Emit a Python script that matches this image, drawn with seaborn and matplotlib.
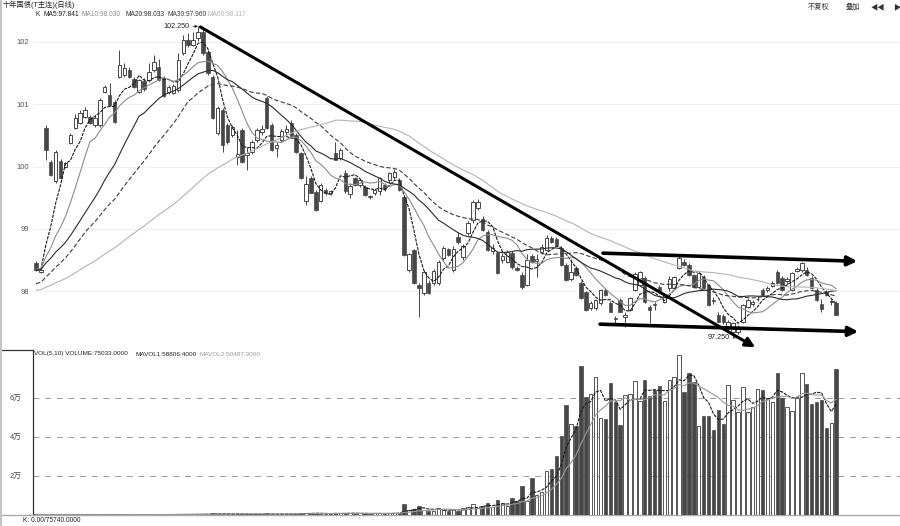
import numpy as np
import pandas as pd
import matplotlib
matplotlib.use("Agg")
import matplotlib.pyplot as plt
import seaborn as sns

sns.set_theme(style="white")
plt.rcParams["font.family"] = ["Liberation Sans", "Noto Sans CJK SC", "DejaVu Sans"]

# ---- data (daily candles, oldest first) ----
open_ = [
    98.45, 98.31, 100.62, 100.07, 99.76, 100.09, 100.00, 100.38, 100.62, 100.70,
    100.80, 100.80, 100.67, 100.67, 101.20, 101.15, 101.04, 101.44, 101.47, 101.55,
    101.41, 101.20, 101.37, 101.39, 101.55, 101.60, 101.42, 101.20, 101.18, 101.23,
    101.82, 102.03, 101.95, 102.06, 102.16, 101.84, 101.44, 100.54, 100.91, 100.67,
    100.51, 100.15, 100.59, 100.18, 100.23, 100.43, 100.55, 101.10, 100.67, 100.30,
    100.43, 100.56, 100.70, 100.51, 100.22, 99.45, 99.82, 99.59, 99.45, 99.62,
    99.58, 100.22, 100.14, 99.90, 99.56, 99.82, 99.70, 99.67, 99.52, 99.58,
    99.60, 99.70, 99.78, 99.84, 99.78, 99.51, 98.34, 98.66, 98.10, 97.97,
    98.13, 98.13, 98.13, 98.53, 98.67, 98.34, 98.87, 98.55, 98.93, 99.14,
    99.34, 99.16, 98.95, 98.65, 98.61, 98.50, 98.47, 98.61, 98.37, 98.26,
    98.10, 98.56, 98.48, 98.63, 98.66, 98.85, 98.84, 98.69, 98.42, 98.20,
    98.37, 98.13, 97.99, 97.73, 97.73, 97.81, 98.02, 97.81, 97.57, 97.86,
    97.58, 97.70, 98.02, 98.10, 98.21, 97.75, 97.80, 98.07, 97.83, 98.05,
    98.05, 98.37, 98.47, 98.42, 98.26, 98.07, 98.23, 98.10, 97.86, 97.62,
    97.60, 97.41, 97.35, 97.34, 97.51, 97.75, 97.80, 97.87, 98.02, 98.02,
    98.08, 98.31, 98.21, 98.16, 98.02, 98.32, 98.34, 98.34, 98.21, 98.02,
    97.80, 97.99, 97.82, 97.81]
high = [
    98.48, 98.36, 100.66, 100.11, 100.26, 100.12, 100.08, 100.54, 100.84, 100.90,
    100.96, 100.82, 100.83, 101.10, 101.31, 101.34, 101.07, 101.87, 101.66, 101.60,
    101.44, 101.41, 101.42, 101.66, 101.79, 101.72, 101.45, 101.31, 101.32, 101.82,
    102.11, 102.14, 102.16, 102.25, 102.20, 101.87, 101.47, 100.97, 100.94, 100.70,
    100.66, 100.59, 100.62, 100.31, 100.42, 100.62, 100.66, 101.13, 100.70, 100.39,
    100.60, 100.66, 100.75, 100.54, 100.24, 99.85, 99.85, 99.62, 99.74, 99.65,
    99.63, 100.39, 100.30, 99.95, 99.74, 99.84, 99.80, 99.70, 99.55, 99.64,
    99.84, 99.74, 99.92, 99.96, 99.82, 99.54, 98.62, 98.68, 98.13, 98.34,
    98.18, 98.36, 98.50, 98.72, 98.70, 98.72, 98.95, 98.76, 99.12, 99.46,
    99.48, 99.20, 98.98, 98.76, 98.64, 98.62, 98.66, 98.65, 98.40, 98.30,
    98.60, 98.60, 98.60, 98.75, 98.90, 98.88, 98.87, 98.72, 98.45, 98.52,
    98.40, 98.16, 98.00, 97.84, 97.88, 98.04, 98.05, 97.84, 97.60, 97.89,
    97.67, 97.90, 98.31, 98.32, 98.24, 97.78, 97.82, 98.10, 97.96, 98.25,
    98.24, 98.58, 98.52, 98.45, 98.28, 98.31, 98.26, 98.12, 97.90, 97.66,
    97.63, 97.53, 97.50, 97.45, 97.80, 97.89, 97.86, 97.92, 98.05, 98.08,
    98.16, 98.34, 98.24, 98.22, 98.30, 98.38, 98.47, 98.38, 98.24, 98.05,
    97.88, 98.02, 97.88, 97.84]
low = [
    98.32, 98.29, 100.11, 99.85, 99.74, 99.80, 99.98, 100.36, 100.60, 100.68,
    100.78, 100.68, 100.64, 100.64, 101.18, 100.97, 100.70, 101.42, 101.44, 101.42,
    101.26, 101.18, 101.22, 101.36, 101.52, 101.37, 101.12, 101.17, 101.16, 101.20,
    101.79, 101.92, 101.93, 102.02, 101.79, 101.47, 100.76, 100.51, 100.23, 100.36,
    100.48, 100.03, 100.05, 99.95, 100.20, 100.40, 100.50, 100.60, 100.25, 100.15,
    100.40, 100.50, 100.48, 100.22, 99.80, 99.38, 99.57, 99.28, 99.43, 99.55,
    99.55, 100.10, 100.10, 99.58, 99.50, 99.68, 99.67, 99.52, 99.48, 99.55,
    99.55, 99.60, 99.74, 99.80, 99.60, 98.56, 98.30, 98.12, 97.59, 97.94,
    97.95, 98.10, 98.10, 98.50, 98.56, 98.30, 98.76, 98.50, 98.90, 99.10,
    99.30, 98.96, 98.64, 98.60, 98.27, 98.45, 98.45, 98.36, 98.32, 98.04,
    98.08, 98.46, 98.22, 98.60, 98.64, 98.78, 98.72, 98.40, 98.17, 98.17,
    98.25, 97.87, 97.68, 97.70, 97.70, 97.78, 97.93, 97.66, 97.47, 97.66,
    97.43, 97.68, 98.00, 98.08, 97.81, 97.49, 97.70, 97.97, 97.81, 98.00,
    98.03, 98.35, 98.40, 98.24, 98.05, 98.05, 98.03, 97.76, 97.80, 97.50,
    97.48, 97.38, 97.25, 97.31, 97.49, 97.73, 97.76, 97.84, 97.93, 97.99,
    98.06, 98.12, 98.00, 98.12, 98.00, 98.30, 98.31, 98.24, 98.04, 97.84,
    97.66, 97.93, 97.78, 97.61]
close = [
    98.34, 98.34, 100.27, 99.87, 100.23, 99.82, 100.05, 100.51, 100.78, 100.86,
    100.91, 100.70, 100.78, 101.07, 101.28, 100.99, 100.72, 101.63, 101.58, 101.44,
    101.28, 101.39, 101.25, 101.52, 101.68, 101.39, 101.13, 101.28, 101.30, 101.71,
    102.03, 101.95, 102.03, 102.16, 101.82, 101.50, 100.78, 100.94, 100.35, 100.39,
    100.64, 100.20, 100.07, 100.22, 100.39, 100.59, 100.60, 100.62, 100.27, 100.34,
    100.57, 100.61, 100.49, 100.23, 99.82, 99.72, 99.58, 99.30, 99.70, 99.57,
    99.61, 100.11, 100.26, 99.60, 99.68, 99.70, 99.78, 99.54, 99.51, 99.62,
    99.82, 99.64, 99.90, 99.92, 99.62, 98.58, 98.60, 98.13, 98.05, 98.31,
    97.97, 98.32, 98.47, 98.69, 98.58, 98.68, 98.79, 98.72, 99.09, 99.43,
    99.43, 98.98, 98.66, 98.70, 98.29, 98.56, 98.63, 98.39, 98.34, 98.07,
    98.50, 98.47, 98.52, 98.71, 98.85, 98.79, 98.74, 98.42, 98.18, 98.30,
    98.26, 97.89, 97.70, 97.81, 97.86, 98.02, 97.94, 97.67, 97.55, 97.67,
    97.62, 97.89, 98.27, 98.30, 97.83, 97.70, 97.78, 97.99, 97.94, 98.20,
    98.23, 98.53, 98.42, 98.26, 98.07, 98.29, 98.05, 97.78, 97.84, 97.51,
    97.50, 97.51, 97.49, 97.41, 97.78, 97.86, 97.82, 97.88, 97.94, 98.05,
    98.13, 98.13, 98.02, 98.19, 98.29, 98.35, 98.45, 98.26, 98.05, 97.86,
    97.72, 97.94, 97.85, 97.62]
volume = [
    300, 100, 200, 100, 200, 100, 100, 200, 100, 200,
    100, 100, 300, 200, 100, 200, 300, 200, 100, 200,
    100, 200, 200, 300, 200, 300, 200, 100, 400, 300,
    400, 300, 200, 500, 600, 400, 900, 600, 700, 500,
    400, 500, 600, 400, 300, 400, 300, 800, 700, 400,
    500, 400, 600, 700, 1000, 900, 800, 1100, 700, 500,
    600, 1200, 800, 1000, 900, 700, 900, 800, 600, 900,
    800, 700, 900, 1000, 1200, 5500, 2400, 3100, 4600, 2800,
    2200, 2000, 3500, 2600, 1800, 2900, 2300, 3400, 4200, 5800,
    3600, 4800, 5900, 4100,
    7700, 6000, 4500, 8900, 7400, 14900, 7400, 18800, 10500, 12000,
    22600, 23600, 30300, 40700, 56400, 46500, 45700, 76400, 60400, 62000,
    70600, 49900, 49200, 67500, 58000, 46200, 61600, 62000, 68700, 58500,
    69300, 61000, 64000, 66200, 58500, 69300, 70800, 82000, 63300, 73000,
    68400, 45700, 50800, 50800, 43600, 53900, 46700, 66700, 59000, 53000,
    65800, 53000, 55200, 64600, 64300, 60000, 58000, 73000, 60200, 55600,
    53400, 59900, 72700, 67200, 57000, 57800, 59000, 44800, 47000, 75033]

# closes before the visible window, only used to warm up the moving averages
prior_close = [
    97.95, 97.88, 97.92, 97.85, 97.90, 97.96, 97.93, 97.87, 97.84, 97.90,
    97.94, 97.98, 97.92, 97.86, 97.89, 97.93, 97.95, 97.91, 97.88, 97.86,
    97.90, 97.94, 97.92, 97.89, 97.93, 97.96, 97.90, 97.87, 97.91, 97.94,
    97.80, 97.72, 97.66, 97.70, 97.64, 97.68, 97.73, 97.69, 97.65, 97.71,
    98.10, 98.22, 98.30, 98.28, 98.35, 98.40, 98.33, 98.37, 98.42, 98.38,
    98.31, 98.36, 98.40, 98.34, 98.39, 98.35, 98.33, 98.38, 98.36]

price_ticks = [98, 99, 100, 101, 102]
price_labels = ["98", "99", "100", "101", "102"]
vol_ticks = [20000, 40000, 60000]
vol_labels = ["2万", "4万", "6万"]

ma_periods = [5, 10, 20, 30, 60]
ma_names = ["MA5:97.841", "MA10:98.030", "MA20:98.033", "MA30:97.960", "MA60:98.117"]

# hand drawn trend lines (candle index, price)
trend_down = [(33.5, 102.24), (146.5, 97.10)]
channel_top = [(115.5, 98.61), (167.3, 98.48)]
channel_bottom = [(114.9, 97.47), (167.5, 97.35)]

# ---- layout helpers (pixel positions in the 900x526 picture) ----
W, H = 900, 526


def fx(x):
    return x / W


def fy(y):
    return 1 - y / H


DARK = "#474747"
ma_colors = ["#1a1a1a", "#8c8c8c", "#2b2b2b", "#3c3c3c", "#b4b4b4"]
ma_styles = [(0, (3, 1)), "-", "-", (0, (4, 2)), "-"]

fig = plt.figure(figsize=(9, 5.26), dpi=100)
fig.patch.set_facecolor("white")
ax = fig.add_axes([fx(33), fy(347), 1 - fx(33), fy(12) - fy(347)])
axv = fig.add_axes([fx(33), fy(515), 1 - fx(33), fy(350) - fy(515)])

n = len(close)
idx = np.arange(n)
o = np.array(open_)
c = np.array(close)
up = c >= o

# ---- candles ----
ax.vlines(idx, low, high, color=DARK, lw=0.7, zorder=2)
body_bottom = np.minimum(o, c)
body_height = np.maximum(np.abs(c - o), 0.008)
ax.bar(idx[~up], body_height[~up], bottom=body_bottom[~up], width=0.7,
       color=DARK, edgecolor=DARK, lw=0.5, zorder=3)
ax.bar(idx[up], body_height[up], bottom=body_bottom[up], width=0.7,
       color="white", edgecolor=DARK, lw=0.7, zorder=3)

# ---- moving averages ----
all_close = pd.Series(prior_close + close)
for p, col, ls in zip(ma_periods, ma_colors, ma_styles):
    ma = all_close.rolling(p, min_periods=1).mean().iloc[len(prior_close):].to_numpy()
    sns.lineplot(x=idx, y=ma, ax=ax, color=col, lw=0.8, linestyle=ls,
                 legend=False, zorder=4)

# ---- trend lines ----
for (x0, y0), (x1, y1), lw in [(trend_down[0], trend_down[1], 2.2),
                               (channel_top[0], channel_top[1], 2.6),
                               (channel_bottom[0], channel_bottom[1], 2.6)]:
    ax.annotate("", xy=(x1, y1), xytext=(x0, y0), annotation_clip=False,
                arrowprops=dict(arrowstyle="-|>", lw=lw, color="black",
                                mutation_scale=14, shrinkA=0, shrinkB=0),
                zorder=6)

hi_i = int(np.argmax(high))
lo_i = int(np.argmin(low))
ax.annotate(f"{high[hi_i]:.3f}", xy=(hi_i, high[hi_i]), xytext=(-6, 0),
            textcoords="offset points", ha="right", va="center", fontsize=5.2,
            color="#222",
            arrowprops=dict(arrowstyle="-|>", lw=0.5, color="#222",
                            mutation_scale=4, shrinkA=0, shrinkB=0))
ax.annotate(f"{low[lo_i]:.3f}", xy=(lo_i + 1, low[lo_i]), xytext=(-6, 0),
            textcoords="offset points", ha="right", va="center", fontsize=5.2,
            color="#222",
            arrowprops=dict(arrowstyle="-", lw=0.5, color="#222",
                            shrinkA=0, shrinkB=0))

ax.set_xlim(-0.61, 176.0)
ax.set_ylim(97.104, 102.48)
ax.set_yticks(price_ticks)
ax.set_yticklabels(price_labels)
ax.set_xticks([])
ax.tick_params(axis="y", length=0, pad=3, labelsize=5.5, labelcolor="#555")
ax.grid(axis="y", color="#efefef", lw=0.6)
ax.grid(axis="x", visible=False)
for s in ax.spines.values():
    s.set_visible(False)
ax.set_facecolor("none")

# ---- volume panel ----
vol = np.array(volume, dtype=float)
axv.bar(idx[~up], vol[~up], width=0.7, color=DARK, edgecolor=DARK, lw=0.5, zorder=3)
axv.bar(idx[up], vol[up], width=0.7, color="white", edgecolor="#555", lw=0.7, zorder=3)
vs = pd.Series(vol)
sns.lineplot(x=idx, y=vs.rolling(5, min_periods=1).mean().to_numpy(), ax=axv,
             color="#1a1a1a", lw=0.8, linestyle=(0, (3, 1)), legend=False, zorder=4)
sns.lineplot(x=idx, y=vs.rolling(10, min_periods=1).mean().to_numpy(), ax=axv,
             color="#9a9a9a", lw=0.8, legend=False, zorder=4)
axv.set_xlim(-0.61, 176.0)
axv.set_ylim(0, 84600)
axv.set_yticks(vol_ticks)
axv.set_yticklabels(vol_labels)
axv.set_xticks([])
axv.tick_params(axis="y", length=0, pad=8, labelsize=5.5, labelcolor="#444")
axv.grid(axis="y", color="#9a9a9a", lw=0.7, linestyle=(0, (6, 6)))
axv.grid(axis="x", visible=False)
for s in ["top", "right"]:
    axv.spines[s].set_visible(False)
axv.spines["left"].set_color("#333")
axv.spines["left"].set_linewidth(0.9)
axv.spines["bottom"].set_color("#aaa")
axv.spines["bottom"].set_linewidth(1.0)
axv.set_facecolor("none")

# frame pieces around the panels
fig.add_artist(plt.Line2D([0, fx(33)], [fy(350)] * 2, color="#333", lw=0.9))
fig.add_artist(plt.Line2D([0, fx(33)], [fy(515)] * 2, color="#aaa", lw=1.0))
fig.add_artist(plt.Line2D([0.0015, 0.0015], [0, 1], color="#c4c4c4", lw=1.6))

# ---- header texts ----
fig.text(fx(3), fy(5), "十年国债(T主连)(日线)", fontsize=5.2, color="#222", va="center")
for x, txt in [(808, "不复权"), (846, "叠加"), (871, "◀◀"), (893, "▶")]:
    fig.text(fx(x), fy(7), txt, fontsize=5.2, color="#333", va="center",
             family=["Noto Sans CJK SC", "DejaVu Sans"])

fig.text(fx(35), fy(15), "K", fontsize=4.8, color="#222", va="center")
for x, txt, col in zip([43, 82, 125, 167, 208], ma_names, ma_colors):
    fig.text(fx(x), fy(15), txt, fontsize=4.8, color=col, va="center")

fig.text(fx(34), fy(354), "VOL(5,10) VOLUME:75033.0000", fontsize=4.6,
         color="#222", va="center")
fig.text(fx(136), fy(354), "MAVOL1:58806.4000", fontsize=4.6, color="#222", va="center")
fig.text(fx(200), fy(354), "MAVOL2:50487.3000", fontsize=4.6, color="#999", va="center")
fig.text(fx(23), fy(520), "K: 0.00/75740.0000", fontsize=4.8, color="#222", va="center")

fig.savefig("out.png", dpi=100)
